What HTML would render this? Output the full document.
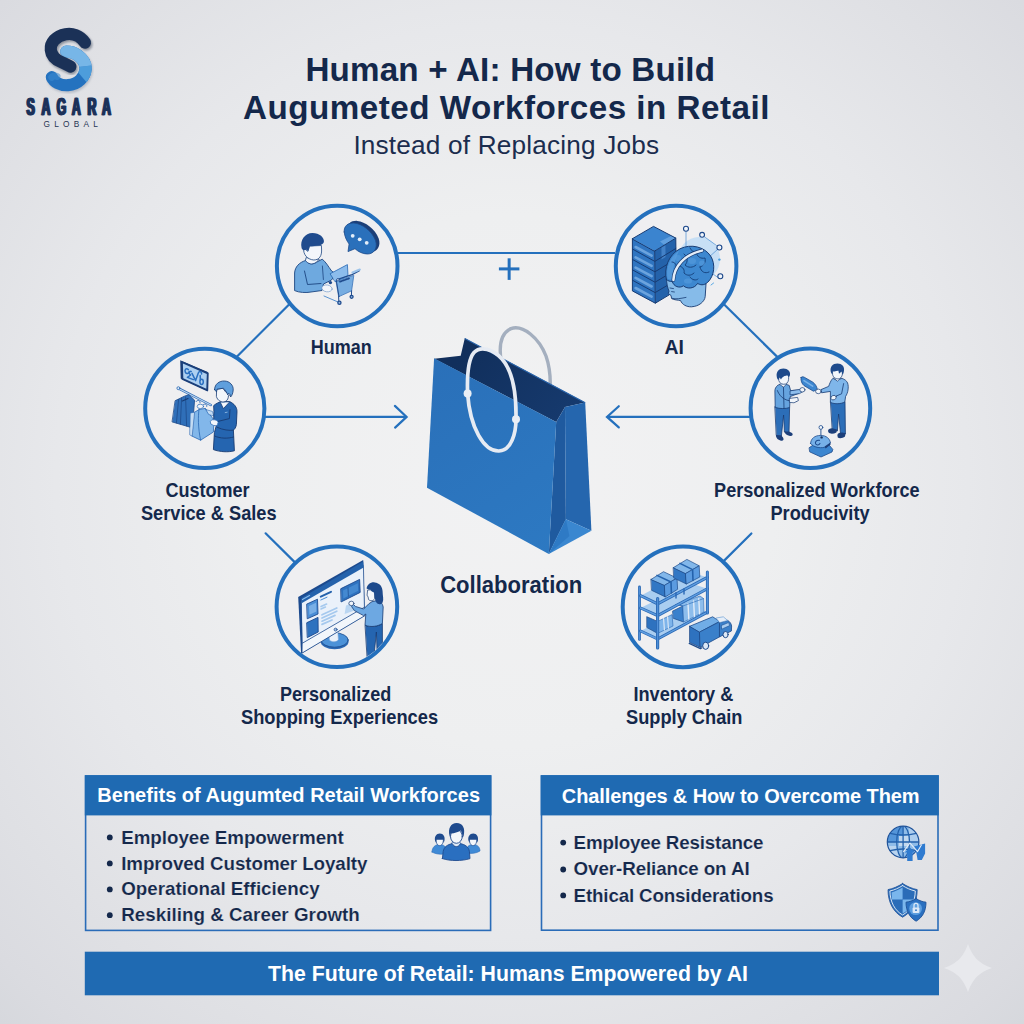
<!DOCTYPE html>
<html>
<head>
<meta charset="utf-8">
<title>Human + AI: Augmented Workforces in Retail</title>
<style>
  html, body { margin: 0; padding: 0; width: 1024px; height: 1024px; overflow: hidden; background: #e6e7ea; }
  svg { display: block; position: absolute; left: 0; top: 0; }
  text { font-family: "Liberation Sans", sans-serif; }
  .t  { font-weight: bold; fill: #14284b; }
  .lb { font-weight: bold; fill: #14284b; font-size: 18px; text-anchor: middle; }
  .lb2 { font-weight: bold; fill: #14284b; font-size: 19.3px; }
  .bl { font-weight: bold; fill: #14284b; font-size: 18.8px; stroke: #e4e5e9; stroke-width: 0.15px; }
  .hd { font-weight: bold; fill: #ffffff; font-size: 20px; }
  .ring { fill: #efeff1; stroke: #2470bd; stroke-width: 4; }
  .ln { stroke: #2470bd; stroke-width: 2.2; fill: none; stroke-linecap: butt; }
</style>
</head>
<body>
<svg width="1024" height="1024" viewBox="0 0 1024 1024">
  <defs>
    <radialGradient id="bg" cx="512" cy="480" r="760" gradientUnits="userSpaceOnUse">
      <stop offset="0" stop-color="#f2f2f3"/>
      <stop offset="0.35" stop-color="#eeeff0"/>
      <stop offset="0.6" stop-color="#e7e8eb"/>
      <stop offset="0.8" stop-color="#dfe0e4"/>
      <stop offset="0.92" stop-color="#dadbe0"/>
      <stop offset="1" stop-color="#d5d7dc"/>
    </radialGradient>
  </defs>
  <rect x="0" y="0" width="1024" height="1024" fill="url(#bg)"/>

  <!-- ============ LOGO ============ -->
  <g id="logo">
    <defs>
      <filter id="lsh" x="-20%" y="-20%" width="140%" height="140%">
        <feGaussianBlur stdDeviation="1.1"/>
      </filter>
      <clipPath id="clipLightA"><path d="M40 40 L100 40 L100 64.5 L74 67.5 L58 60 L40 60 Z"/></clipPath>
      <path id="lgpath" d="M66.3 51.6 C70 51.6 74 52.6 77.5 55 C83 59 86 64 85.6 69 C85 77 78 84.6 68 85.2 C60 85.6 54 82 51.8 77.2" fill="none" stroke-width="12.2" stroke-linecap="round"/>
      <clipPath id="clipLightB"><path d="M74 67.5 L100 64.5 L100 80 L88 84 Z"/></clipPath>
    </defs>
    <!-- light lower hook: shadow, base (dark tone), mid tone, light tone -->
    <path d="M66.3 51.6 C70 51.6 74 52.6 77.5 55 C83 59 86 64 85.6 69 C85 77 78 84.6 68 85.2 C60 85.6 54 82 51.8 77.2" fill="none" stroke="#8d97a8" stroke-width="12.4" stroke-linecap="round" opacity="0.5" filter="url(#lsh)" transform="translate(1 1.6)"/>
    <use href="#lgpath" stroke="#2472bf"/>
    <path d="M51.8 77.2 C53 76 55 75.6 57 76.4" fill="none" stroke="#3b8ad2" stroke-width="7" stroke-linecap="round" opacity="0.55"/>
    <g clip-path="url(#clipLightB)"><use href="#lgpath" stroke="#4d9ddb"/></g>
    <g clip-path="url(#clipLightA)"><use href="#lgpath" stroke="#77b6e7"/></g>
    <!-- dark upper hook -->
    <path d="M85 42.6 C80 35 72 33 65.5 34.2 C56 36 50 42.6 50.8 50 C51.5 56.4 56 60 62 62.4 C65 63.6 68 65.2 70.4 66.6" fill="none" stroke="#0c1a33" stroke-width="12.4" stroke-linecap="round" opacity="0.4" filter="url(#lsh)" transform="translate(1.2 1.8)"/>
    <path d="M85 42.6 C80 35 72 33 65.5 34.2 C56 36 50 42.6 50.8 50 C51.5 56.4 56 60 62 62.4 C65 63.6 68 65.2 70.4 66.6" fill="none" stroke="#1b3157" stroke-width="12.2" stroke-linecap="round"/>
    <!-- SAGARA -->
    <g transform="scale(0.5 1)" font-size="24.6" font-weight="bold" fill="#1b3159" stroke="#1b3159" stroke-width="0.7" style="font-family:'Liberation Sans',sans-serif">
      <g id="sagara">
        <text x="53" y="115.4">S</text>
        <text x="83" y="115.4">A</text>
        <text x="113.4" y="115.4">G</text>
        <text x="143.6" y="115.4">A</text>
        <text x="175" y="115.4">R</text>
        <text x="204" y="115.4">A</text>
      </g>
      <use href="#sagara" transform="translate(-1.3 0)"/>
      <use href="#sagara" transform="translate(1.3 0)"/>
    </g>
    <text x="43.6" y="127.2" font-size="8.3" fill="#283653" textLength="54.2" lengthAdjust="spacing">GLOBAL</text>
  </g>

  <!-- ============ TITLE ============ -->
  <text class="t" x="305.4" y="81" font-size="33.2" textLength="409.6" lengthAdjust="spacing">Human + AI: How to Build</text>
  <text class="t" x="243" y="119.1" font-size="33.2" textLength="526.4" lengthAdjust="spacing">Augumeted Workforces in Retail</text>
  <text x="353.4" y="154.3" font-size="26.2" fill="#1b2d4e" textLength="305.6" lengthAdjust="spacing">Instead of Replacing Jobs</text>

  <!-- ============ CONNECTORS ============ -->
  <g id="connectors">
    <line class="ln" x1="398" y1="253" x2="615" y2="253"/>
    <line class="ln" x1="498.9" y1="268.9" x2="519.4" y2="268.9" style="stroke-width:3"/>
    <line class="ln" x1="509.15" y1="258.3" x2="509.15" y2="279.9" style="stroke-width:3"/>
    <line class="ln" x1="290.3" y1="303.2" x2="236.3" y2="357.2"/>
    <line class="ln" x1="722.4" y1="302.8" x2="778.8" y2="358.4"/>
    <line class="ln" x1="265" y1="416.9" x2="406.2" y2="416.9"/>
    <polyline class="ln" points="394.9,405.9 406.6,416.9 395.1,427.6" style="stroke-linecap:round;stroke-linejoin:miter"/>
    <line class="ln" x1="750" y1="416.9" x2="607.4" y2="416.9"/>
    <polyline class="ln" points="618.8,406.2 607,416.9 618.8,427.4" style="stroke-linecap:round;stroke-linejoin:miter"/>
    <line class="ln" x1="265.6" y1="533.3" x2="295.7" y2="563.1" style="stroke-linecap:round"/>
    <line class="ln" x1="751.4" y1="533.5" x2="722.6" y2="562.1" style="stroke-linecap:round"/>
  </g>

  <!-- ============ RINGS ============ -->
  <g id="rings">
    <circle class="ring" cx="337.2" cy="266" r="60.3"/>
    <circle class="ring" cx="676.1" cy="266" r="60.3"/>
    <circle class="ring" cx="204.8" cy="408.4" r="59.6"/>
    <circle class="ring" cx="810.4" cy="408.2" r="59.8"/>
    <circle class="ring" cx="336.9" cy="606.8" r="60.3"/>
    <circle class="ring" cx="683" cy="606.9" r="60.3"/>
  </g>

  <!-- ============ ICONS ============ -->
  <g id="icon-human" stroke-linejoin="round" stroke-linecap="round">
    <!-- body -->
    <path d="M305.5 260.5 C299 262.5 295 267 294.6 273 L294.6 290.6 C299 292.6 306 293 311 292 L322 290.5 L323.5 284 L331.5 280 L336 274 L331.6 271 C328 266 325.5 261.5 322.2 259.2 L316 262.5 C312 265 308 264 305.5 260.5 Z" fill="#6ea9df" stroke="#1c4580" stroke-width="0.9"/>
    <path d="M304.5 271 L307.5 284.5 L321 283.5" fill="none" stroke="#1c4580" stroke-width="0.9"/>
    <path d="M322.4 266 L323.4 279.5" fill="none" stroke="#1c4580" stroke-width="0.8"/>
    <!-- neck -->
    <path d="M306 258 L305.5 260.5 C308 264 312 265 316 262.5 L319 259.5 Z" fill="#f3f6fb" stroke="#1c4580" stroke-width="0.8"/>
    <!-- face -->
    <path d="M303.6 248.5 C303 254 307 259.5 313.8 260 C319.5 260 321.8 255.5 321.6 250 L321.4 245.5 L309.5 246 L308 251 Z" fill="#f3f6fb" stroke="#1c4580" stroke-width="0.8"/>
    <!-- hair -->
    <path d="M301.6 248 C299.8 240 305 233 312.5 233 C319.5 233 324.5 237.5 323.9 242 C322.8 245.5 316 246.3 309.6 246.3 C309.3 248 308.8 249.8 308.1 251 C307 249.5 305 249.2 304 250.5 C303 250 302 249.4 301.6 248 Z" fill="#1f4b8e"/>
    <!-- laptop / cart -->
    <polygon points="330.4,273.6 347.4,264.6 348,275.6 335.4,281.6" fill="#8cbcec" stroke="#2a68b4" stroke-width="0.8"/>
    <polygon points="336.3,280.6 353.8,275.4 351.6,290.8 339,296.6" fill="#6ba6e0" stroke="#2a68b4" stroke-width="0.8" opacity="0.9"/>
    <path d="M337 279.5 L352 274.6 L359.4 270.6" fill="none" stroke="#1f4b8e" stroke-width="1.3"/>
    <path d="M352.5 272.6 L359.8 269.6" fill="none" stroke="#9cc3ea" stroke-width="2.2"/>
    <path d="M324 296 L338 302" fill="none" stroke="#5b93d0" stroke-width="1"/>
    <path d="M338.6 296.6 L338.8 301 M351.6 290.8 L351.4 295.6 M336.3 280.6 L339 296.6" fill="none" stroke="#1f4b8e" stroke-width="1"/>
    <path d="M340 281.6 L349 278.4" fill="none" stroke="#1f4b8e" stroke-width="1.8" stroke-dasharray="1.6 1.2"/>
    <circle cx="339.4" cy="302.8" r="1.6" fill="#8fb4de" stroke="#1f4b8e" stroke-width="1.3"/>
    <circle cx="351.6" cy="296.8" r="1.5" fill="#8fb4de" stroke="#1f4b8e" stroke-width="1.3"/>
    <circle cx="338" cy="279.8" r="1.3" fill="#dfe9f6" stroke="#1f4b8e" stroke-width="0.8"/>
    <!-- hand -->
    <ellipse cx="327" cy="288.4" rx="5.2" ry="3.4" fill="#f3f6fb" stroke="#6a93c6" stroke-width="0.6" transform="rotate(8 327 288.4)"/>
    <circle cx="330.4" cy="282.6" r="1.7" fill="#1f4b8e"/>
    <!-- speech bubble -->
    <path d="M344.2 232 C343.6 226 348 222.6 354 223 C362 223.6 372 231 375.5 240.5 C378 248 374 254 367.5 254 C362.5 254 358 251.5 355 248.7 L348 251.6 L349.1 244 C346.5 240.5 344.6 236.5 344.2 232 Z" fill="#1c3f78" transform="translate(3.2 -2.1)"/>
    <path d="M344.2 232 C343.6 226 348 222.6 354 223 C362 223.6 372 231 375.5 240.5 C378 248 374 254 367.5 254 C362.5 254 358 251.5 355 248.7 L348 251.6 L349.1 244 C346.5 240.5 344.6 236.5 344.2 232 Z" fill="#2a70bb" stroke="#1d4a8a" stroke-width="0.8"/>
    <circle cx="352.7" cy="235.8" r="1.9" fill="#e4eef9"/>
    <circle cx="359.7" cy="239.3" r="1.9" fill="#e4eef9"/>
    <circle cx="366.7" cy="242.8" r="1.9" fill="#e4eef9"/>
  </g>
  <g id="icon-ai" stroke-linejoin="round" stroke-linecap="round">
    <!-- glow -->
    <ellipse cx="699" cy="259" rx="21" ry="22" fill="#b9d9f5" opacity="0.75"/>
    <!-- node lines -->
    <path d="M686 231.5 L686 247 M704 236.5 L716.5 245.5 M717.5 249.5 L708 258 M718 277.5 L710 272" fill="none" stroke="#5d9ad8" stroke-width="0.8"/>
    <!-- server: right face -->
    <polygon points="654.7,251 675.8,238.1 676.4,290.3 655.3,303.2" fill="#2462aa"/>
    <!-- server: left face -->
    <polygon points="632.4,238.7 654.7,251 655.3,303.2 632.4,290.9" fill="#2f74c0"/>
    <!-- server: top -->
    <polygon points="632.4,238.7 653.5,226.4 675.8,238.1 654.7,251" fill="#3b84cf"/>
    <polygon points="660,241.5 671.5,235.8 675.8,238.1 664.4,245" fill="#6aa6e2" opacity="0.8"/>
    <polygon points="661.4,247.6 665.4,245.2 665.6,257 661.6,259.4" fill="#5d9ade" opacity="0.55"/>
    <!-- left face stripes -->
    <g fill="none" stroke="#7fb3e8" stroke-width="2.6" opacity="0.75">
      <path d="M635.6 247 L651.6 255.6"/>
      <path d="M635.6 257.3 L651.6 265.9"/>
      <path d="M635.6 267.6 L651.6 276.2"/>
      <path d="M635.6 277.9 L651.6 286.5"/>
      <path d="M635.6 288 L651.6 296.6"/>
    </g>
    <!-- outlines -->
    <g fill="none" stroke="#173b73" stroke-width="1">
      <polygon points="632.4,238.7 653.5,226.4 675.8,238.1 654.7,251"/>
      <path d="M632.4 238.7 L632.4 290.9 L655.3 303.2 L654.7 251"/>
      <path d="M675.8 238.1 L676 262"/>
      <path d="M632.4 249 L654.8 261.4 L675.8 248.5"/>
      <path d="M632.4 259.4 L654.9 271.8 L672 261.5"/>
      <path d="M632.4 269.8 L655 282.2 L668 274.5"/>
      <path d="M632.4 280.2 L655.1 292.6 L668 285"/>
      <path d="M655.3 303.2 L669 295"/>
    </g>
    <!-- head / face -->
    <path d="M666.6 279 C666.4 283 667.6 287.5 669 291.2 L668.2 293.6 L671 295.4 L671.6 298.6 C674 300 678 300 680.6 300.6 C682 304.5 686.5 307 691.5 306.8 C699 306.4 704.6 301.6 705.2 296.6 L706 284 L690 277 Z" fill="#86bbe9" stroke="#173b73" stroke-width="0.9"/>
    <path d="M670 288 L673.5 288.6 M671.6 291.6 L674.4 292" fill="none" stroke="#173b73" stroke-width="0.8"/>
    <path d="M672.4 298.4 C676 299.4 680 298.6 686 297.4" fill="none" stroke="#173b73" stroke-width="0.8"/>
    <!-- brain -->
    <path d="M666.4 279.5 C663.6 268.5 668.5 254.5 680 248.8 C691 243.4 704.5 246.8 710.6 256 C715.8 264 714.4 276 707.6 282.4 C703.5 286 700 284.8 697.6 283.4 C694.6 288.6 687.4 289.4 683.4 285.8 C679.4 288.6 673.8 286.6 672.2 281.4 C670 281.6 668 281 666.4 279.5 Z" fill="#3d88d0" stroke="#173b73" stroke-width="1"/>
    <path d="M667.6 278.6 C665.6 269 669.6 257 679.4 250.6 C675 258 672.6 268 672.4 279.6 C670.6 279.8 668.8 279.4 667.6 278.6 Z" fill="#5b9fe0" opacity="0.7"/>
    <!-- brain folds -->
    <g fill="none" stroke="#184581" stroke-width="1">
      <path d="M684 254 C688 257 688 262 685 265 C688 268 693 268 696 265"/>
      <path d="M696 252 C697 257 701 259 705 258 C706 262 704 266 700 267"/>
      <path d="M678 266 C682 266 685 269 684 273 C687 276 691 276 694 273"/>
      <path d="M700 267 C701 272 705 274 709 272"/>
      <path d="M690 277 C692 280 696 281 698 279"/>
      <path d="M672 262 C675 262 677 265 676 268"/>
      <path d="M690 248 C691 251 694 252 696 252"/>
    </g>
    <g fill="#5a9fe0" opacity="0.55">
      <ellipse cx="692" cy="261" rx="4" ry="3"/>
      <ellipse cx="702" cy="263" rx="3" ry="2.6"/>
      <ellipse cx="688" cy="281" rx="4" ry="2.6"/>
      <ellipse cx="678" cy="258" rx="3" ry="3"/>
    </g>
    <!-- white band -->
    <path d="M673.4 280 C674 267 684 254.5 702 250.6" fill="none" stroke="#173b73" stroke-width="3.8"/>
    <path d="M673.4 280 C674 267 684 254.5 702 250.6" fill="none" stroke="#e3edf8" stroke-width="2.5"/>
    <!-- nodes -->
    <g fill="#f2f6fb" stroke="#1b478a" stroke-width="1.1">
      <circle cx="686" cy="228.8" r="2.5"/>
      <circle cx="702.1" cy="234.8" r="2.4"/>
      <circle cx="719.4" cy="247.5" r="2.5"/>
      <circle cx="720.3" cy="276.2" r="2.5"/>
    </g>
    <circle cx="719.4" cy="259.6" r="1.2" fill="#4aa0e0"/>
    <path d="M711 285 L713.6 283" fill="none" stroke="#5baae6" stroke-width="1"/>
  </g>
  <g id="icon-customer" stroke-linejoin="round" stroke-linecap="round">
    <!-- sign -->
    <polygon points="181.1,361.1 208.6,372.9 208,391.6 181.6,379.3" fill="#1b3f7a" transform="translate(-0.9 -0.9)"/>
    <polygon points="181.9,362 207.9,373.2 207.4,390.6 182.3,379" fill="#1b3f7a" stroke="#1b3f7a" stroke-width="1.6"/>
    <polygon points="182.9,363.6 206.8,374 206.3,388.8 183.3,378.2" fill="#aed0f1"/>
    <g fill="none" stroke="#2a6fc0" stroke-width="1.5">
      <path d="M188.4 369.6 C186 367.6 184.2 369.8 185.4 372.4 C186.6 374.4 189 373.6 189.2 371.6"/>
      <path d="M191.2 371.4 C189 371 188.6 374 190.6 375 L187.4 377.4 L193.4 379.6"/>
      <path d="M192 373.4 L195.6 380.6 L198.4 372.8 C199.4 370.6 202 371.6 201.6 374"/>
      <ellipse cx="201.6" cy="381.8" rx="1.7" ry="2.6"/>
      <path d="M200.2 375.6 L200.4 380"/>
    </g>
    <!-- rack bar -->
    <path d="M178.6 388.4 L210.8 405" fill="none" stroke="#2a68b4" stroke-width="2.4"/>
    <path d="M178.6 388.4 L210.8 405" fill="none" stroke="#bcd6f0" stroke-width="1.1"/>
    <circle cx="178.4" cy="388.2" r="1.5" fill="#dbe8f6" stroke="#2a68b4" stroke-width="0.8"/>
    <!-- dark garments -->
    <path d="M175.4 400.6 L184.4 396.2 L188.8 394.6 L194.6 400.2 L193.6 412.5 L190.2 427.2 L172.4 422 Z" fill="#2f6fb9" stroke="#1d4a8a" stroke-width="0.8"/>
    <path d="M178.6 399.4 L176.4 423 M181.6 398 L180.4 424.2 M185.6 397 L186.6 426" fill="none" stroke="#1d4a8a" stroke-width="0.8"/>
    <path d="M182.4 401 L188 398.4" fill="none" stroke="#173b73" stroke-width="1.1"/>
    <!-- hangers -->
    <path d="M196 401.6 C197.6 399.4 200.6 400.4 200 402.8 M203 405 C204.6 403 207.4 404.2 206.8 406.4" fill="none" stroke="#2a68b4" stroke-width="0.9"/>
    <ellipse cx="200.4" cy="406.4" rx="3.2" ry="2.2" fill="#f1f5fa" stroke="#2a68b4" stroke-width="0.7"/>
    <!-- light garment -->
    <path d="M194.6 412.2 L199 409.6 L205.2 408.4 L214 420 L213.4 432 L200.6 440.2 L192.2 436.2 Z" fill="#82b7ea" stroke="#2a68b4" stroke-width="0.8"/>
    <path d="M190.4 413 L194.6 412.2 L192.2 436.2 L190 435 Z" fill="#c5dcf3" stroke="#2a68b4" stroke-width="0.6"/>
    <path d="M199 409.6 C198 416 198 428 200.6 440.2" fill="none" stroke="#2a68b4" stroke-width="0.8"/>
    <path d="M205.2 408.4 L210 413.4 L213 414.6" fill="none" stroke="#2a68b4" stroke-width="0.8"/>
    <polygon points="206,409.6 212.4,411.4 213.8,416 209,414.6" fill="#c5dcf3" stroke="#2a68b4" stroke-width="0.6"/>
    <!-- person body -->
    <path d="M213.9 405.4 C216 403.4 219.4 402.2 221 401.6 L229.6 401.6 C234 403.6 237 407 237 411.4 L236.4 424.4 C236 427.6 234.4 429.4 233.4 430.2 L234.4 450.8 C228 452.4 220 452 213.4 449.6 L214.4 432.6 L216.6 424.6 L213.6 424.6 L213.9 412 Z" fill="#2565b0" stroke="#173b73" stroke-width="0.9"/>
    <path d="M214.6 436 C220 438.6 228 438.8 233.6 437" fill="none" stroke="#173b73" stroke-width="0.9"/>
    <path d="M218 421.4 L229.4 418.6 L230 409.6 M217.4 427.4 C223 430 229.6 430.8 233.4 430.2" fill="none" stroke="#173b73" stroke-width="0.9"/>
    <path d="M220.4 402.6 L223.4 408.6 L229.4 402.2" fill="#f2f6fb" stroke="#173b73" stroke-width="0.8"/>
    <path d="M225.2 412.6 L227.2 412.2" fill="none" stroke="#9cc3ea" stroke-width="0.8"/>
    <!-- hand -->
    <ellipse cx="214.2" cy="422.6" rx="4" ry="2.9" fill="#f2f6fb" stroke="#2a68b4" stroke-width="0.7" transform="rotate(15 214.2 422.6)"/>
    <!-- face -->
    <path d="M216.6 389.6 L216.4 396.4 C217.4 400.6 221.6 402.8 225.2 401.6 C227.6 400.6 228.6 397.6 228.4 395.6 C230.2 395.6 231.4 393.6 230.4 392 L226 392.4 L223 388.6 Z" fill="#f2f6fb" stroke="#173b73" stroke-width="0.8"/>
    <!-- hair -->
    <path d="M214.6 389.4 C214.6 384 219.4 380.8 224.4 381 C230 381.2 233.6 385.6 233.2 390 C233 393 232 395.6 230.6 397 C230.4 395 229.6 393.2 228.4 393.4 L227.8 395 C226.6 392 225 389.8 223.4 388.2 L217 389.2 L216.6 391.6 C215.6 391.2 214.8 390.4 214.6 389.4 Z" fill="#5f9fdd" stroke="#173b73" stroke-width="0.8"/>
  </g>
  <g id="icon-workforce" stroke-linejoin="round" stroke-linecap="round">
    <!-- person 1 legs -->
    <path d="M775.2 406.6 L789.6 407.4 L789 433 L784.4 432 L783.6 415 L781.4 436 L776.6 435.4 Z" fill="#2c6eb8" stroke="#173b73" stroke-width="0.8"/>
    <path d="M776 435 C775.6 437.4 777.6 439.8 781 440.8 C783.4 441.2 784.2 439.4 783 437.6 L781.4 435.6 Z" fill="#1c3f7a"/>
    <path d="M784.4 431.6 C784.4 433.4 786.6 435.4 790 436 C792.6 436.2 793.4 434.4 792 433 L789 431.4 Z" fill="#1c3f7a"/>
    <!-- person 1 torso -->
    <path d="M777.6 385.4 C775.6 387 774.9 389 774.9 391 L775.2 407.4 C780 409 785.6 408.8 789.6 407.6 L790.2 396.6 L798.6 393.4 L799 390 L790.6 390.6 L789.2 385.4 L783.4 383.4 Z" fill="#66a4df" stroke="#173b73" stroke-width="0.8"/>
    <path d="M790.4 390.8 L800 389.4 L803 388 L803.4 391.2 L799.6 393.6 L790.4 394.8 Z" fill="#8dbdec" stroke="#173b73" stroke-width="0.7"/>
    <path d="M777.4 390.6 C779 395 783 399.6 789 400.6 L796.4 401.4 M783.4 385 L784 408" fill="none" stroke="#173b73" stroke-width="0.8"/>
    <path d="M779.6 384.4 L783.6 387.2 L786.6 384" fill="#f2f6fb" stroke="#173b73" stroke-width="0.7"/>
    <ellipse cx="802.4" cy="389.8" rx="2.6" ry="2.2" fill="#f2f6fb" stroke="#173b73" stroke-width="0.7"/>
    <path d="M789.6 398.4 L797.6 397.4 L798.4 400.6 L794 402.8 L789.8 402.4 Z" fill="#f2f6fb" stroke="#173b73" stroke-width="0.7"/>
    <!-- person 1 head -->
    <path d="M778.6 376.4 L778.8 380.6 C779.6 383.6 782.6 384.8 785.6 384 C788 383 788.8 380.4 788.6 377.6 L788.4 375 Z" fill="#f2f6fb" stroke="#173b73" stroke-width="0.7"/>
    <path d="M776.8 377 C775.8 372 779 368.6 783.4 368.6 C788 368.6 790.6 371.6 790 375.2 L788.8 377.6 C788.4 376 787.6 375.2 786.4 375.4 C783.6 376 782 377.4 781 379.4 L779.6 377.4 L778.4 380 C777.6 379.4 777 378.2 776.8 377 Z" fill="#1e4a8c"/>
    <!-- tablet -->
    <path d="M801 377.6 C801.4 376.6 802.6 376.6 804.2 377.2 L812.6 382 C815 383.6 816.8 386.4 817.4 389.6 L813.4 391.2 L804 385.6 C801.8 383.8 800.6 380.4 801 377.6 Z" fill="#3c86d0" stroke="#1c4a8c" stroke-width="0.8"/>
    <path d="M804 380.6 L812.6 386.2" fill="none" stroke="#7ab2e8" stroke-width="1.6"/>
    <!-- person 2 legs -->
    <path d="M830.8 401.8 L845 401.8 L845.4 434 L840.6 434.6 L838.6 414 L837.4 431 L832.6 430.4 Z" fill="#2c6eb8" stroke="#173b73" stroke-width="0.8"/>
    <path d="M828 431 C828 429 830.6 428 833.2 428.4 L837 429.4 L836.4 432.4 C833.6 434 830 434 828.6 432.6 Z" fill="#1c3f7a"/>
    <path d="M837.4 435.4 C837.4 433.2 839.6 432.4 842.4 432.6 L845.6 433.2 L845 436.6 C842.6 438.4 839 438.6 837.8 437.4 Z" fill="#1c3f7a"/>
    <!-- person 2 torso -->
    <path d="M832.6 378.6 C830.6 380.6 829.6 384 828.6 386.4 L821 389.6 L821.6 392.8 L830.4 391.4 L830.4 402.4 C835 404.4 841 404 844.8 402 L845.6 396.4 C848 393 849 387 847.6 383 C846.6 380.6 844.6 379.4 842 378.4 L837 380 Z" fill="#7fb6ea" stroke="#173b73" stroke-width="0.8"/>
    <path d="M834.4 396.8 L841.6 393.8 L843.6 383.6" fill="none" stroke="#173b73" stroke-width="0.8"/>
    <path d="M833.6 378 L837.4 381.2 L841 378" fill="#f2f6fb" stroke="#173b73" stroke-width="0.7"/>
    <ellipse cx="818.4" cy="391.4" rx="2.8" ry="2.3" fill="#f2f6fb" stroke="#173b73" stroke-width="0.7"/>
    <ellipse cx="833.6" cy="397.6" rx="2.8" ry="2.2" fill="#f2f6fb" stroke="#173b73" stroke-width="0.7" transform="rotate(-20 833.6 397.6)"/>
    <!-- person 2 head -->
    <path d="M832.4 370.6 L832.6 374.6 C833.4 378 836.4 379.4 839.4 378.6 C841.8 377.6 842.6 375 842.4 372.4 L842.2 370 Z" fill="#f2f6fb" stroke="#173b73" stroke-width="0.7"/>
    <path d="M830.8 372 C829.6 367 832.8 363.6 837.4 363.6 C842 363.6 844.6 366.6 844 370.4 C843.8 372.4 843.2 374 842.4 374.8 L841.6 371.4 L839 373.8 L838.4 370.6 C836.4 371.4 834.2 371.6 832.6 371.2 L832.4 374.4 C831.6 373.8 831 373 830.8 372 Z" fill="#1e4a8c"/>
    <!-- robot -->
    <path d="M820.9 429.4 L820.9 436" fill="none" stroke="#1c4a8c" stroke-width="0.9"/>
    <circle cx="820.9" cy="427.4" r="1.9" fill="#f2f6fb" stroke="#1c4a8c" stroke-width="0.8"/>
    <path d="M809.4 447.6 L814 444.4 L828.6 444.4 L832.8 449.4 L832 452 L821 457 L810 452 Z" fill="#3c86d0" stroke="#1c4a8c" stroke-width="0.8"/>
    <path d="M810.6 443.6 C810.6 438.4 815 435.4 820.6 435.4 C826.6 435.4 830 439 830.4 443 L826.6 446.6 C822 448.6 814 448 810.6 443.6 Z" fill="#76b0e8" stroke="#1c4a8c" stroke-width="0.8"/>
    <path d="M824.6 446.4 L830.4 442.4 L830.6 444.6 L825.6 448.4 Z" fill="#1c3f7a"/>
    <path d="M819.4 440.4 C816.6 439.8 814.8 441.8 815.6 443.8 C816.6 445.6 819.4 445.2 820 443.4" fill="none" stroke="#1c4a8c" stroke-width="1.1"/>
    <circle cx="821.6" cy="437.4" r="1.2" fill="#16305e"/>
  </g>
  <g id="icon-shopping" stroke-linejoin="round" stroke-linecap="round">
    <defs><clipPath id="clipShop"><circle cx="336.7" cy="606.2" r="58.6"/></clipPath></defs>
    <g clip-path="url(#clipShop)">
    <!-- stand -->
    <ellipse cx="334.6" cy="641.6" rx="14" ry="7.6" fill="#2a68b4"/>
    <ellipse cx="334.6" cy="640" rx="13.6" ry="7.2" fill="#4c92d8" stroke="#1d4a8a" stroke-width="0.8"/>
    <path d="M328.6 632 L329.4 640 C331.6 642.4 337 642.4 338.4 639.6 L337.6 628 Z" fill="#e9f0f9" stroke="#7aa6d8" stroke-width="0.6"/>
    <!-- monitor frame -->
    <polygon points="298.2,596.9 363.2,560 365,615.6 301.1,653.7" fill="#1c4a8e"/>
    <polygon points="301.6,600.6 363.4,565.6 364.6,614.8 302.6,652.2" fill="#eaf1fa" stroke="#1c4a8e" stroke-width="0.7"/>
    <!-- top bar -->
    <polygon points="301.4,598 363.3,561.4 363.6,567.6 301.6,603.2" fill="#2462ac"/>
    <path d="M302.4 599.6 L309.6 595.6" fill="none" stroke="#8bbcec" stroke-width="1.1"/>
    <!-- chin -->
    <polygon points="302.4,643.2 364.8,607 365,615.6 302.2,653" fill="#f2f6fb" stroke="#1c4a8e" stroke-width="0.8"/>
    <circle cx="335.6" cy="629.6" r="1.5" fill="#9fbfe4" stroke="#1c4a8e" stroke-width="0.7"/>
    <!-- left tiles -->
    <polygon points="307,604 317.5,599.2 318,614 307.6,618.6" fill="#4a8ed6" stroke="#1c4a8e" stroke-width="0.9"/>
    <polygon points="309,606 316,602.8 316.4,611.6 309.4,614.8" fill="#8dbdec" opacity="0.7"/>
    <polygon points="307,622.6 318,617.4 318.2,632 307.6,637.4" fill="#2e72bf" stroke="#1c4a8e" stroke-width="0.9"/>
    <!-- middle text lines -->
    <path d="M320.8 596.6 L331 591.8" fill="none" stroke="#2462ac" stroke-width="2"/>
    <path d="M320.8 600 L327 597.2" fill="none" stroke="#4a8ed6" stroke-width="1"/>
    <path d="M321 606.6 L326.6 604 M321 609 L325.4 607" fill="none" stroke="#a5c9ee" stroke-width="1.6"/>
    <path d="M322 614.8 L336.8 608 M322 618 L336.8 611.2 M322 621.2 L335 615.4 M322 624.4 L332 620" fill="none" stroke="#a5c9ee" stroke-width="1.7"/>
    <!-- right image block -->
    <polygon points="341,588.6 359.6,579.4 360.2,592.4 341.4,601.8" fill="#2e72bf" stroke="#1c4a8e" stroke-width="0.9"/>
    <polygon points="343,590.6 357.8,583.2 358.2,590.8 343.3,598.4" fill="#4a8ed6" opacity="0.8"/>
    <path d="M348 588 L348.4 596" fill="none" stroke="#1c4a8e" stroke-width="0.7"/>
    <polygon points="346,605.6 352,603.4 354.6,610.4 344.6,614" fill="#b5d3f1" opacity="0.9"/>
    <!-- woman legs -->
    <path d="M365.4 625.4 C371 627.4 378 626.4 382.4 623.6 L382.4 644 L377 650 L376.4 632 L373.6 660 L367.6 660 Z" fill="#2565b0" stroke="#173b73" stroke-width="0.8"/>
    <!-- woman torso -->
    <path d="M368.6 604 L363.6 609 L355.4 606.4 L353.4 604.4 L351.6 606.6 L354.4 610.6 L363.6 615.6 L365.8 614 L365 625.2 C371 627.6 378 626.4 382.4 623.4 L383.2 607 C382.6 603.6 380.6 601.4 378 600.4 L372.4 601.6 Z" fill="#6da8e2" stroke="#173b73" stroke-width="0.8"/>
    <!-- hand -->
    <ellipse cx="351.4" cy="603.4" rx="2.6" ry="2.2" fill="#f2f6fb" stroke="#173b73" stroke-width="0.7"/>
    <!-- face -->
    <path d="M367.6 590.4 L367 595.6 L368 596.4 L368.6 599.6 C370.4 601.4 373.6 601 374.6 598.6 L374.4 590 Z" fill="#f2f6fb" stroke="#173b73" stroke-width="0.7"/>
    <!-- hair -->
    <path d="M366.6 588.6 C367 584.6 370.6 582 374.6 582.4 C379.6 582.8 382.6 586.6 382.6 591.6 C382.6 595.6 384 599.4 382.6 602.4 C381 604.8 378 605 376.4 602.6 C374.6 600 374.8 595.6 374 592.4 C372.6 592.4 371 591 370.2 589.6 C369 589.8 367.6 589.4 366.6 588.6 Z" fill="#1e4a8c"/>
    </g>
  </g>
  <g id="icon-inventory" stroke-linejoin="round" stroke-linecap="round">
    <!-- back posts -->
    <path d="M639.5 587 L639.5 639.4" fill="none" stroke="#2a68b4" stroke-width="2.8"/>
    <path d="M639.5 587 L639.5 639.4" fill="none" stroke="#4f8fd8" stroke-width="1.2"/>
    <!-- shelves (planes) -->
    <polygon points="640.6,595.7 688,571 707.4,577.4 657.6,603.9" fill="#a9cdf0"/>
    <polygon points="640.6,608 690,583 707.4,588.7 657.6,615.6" fill="#a9cdf0"/>
    <polygon points="640.6,631 690,606 707.4,612.1 657.6,639" fill="#a9cdf0"/>
    <!-- bottom left box -->
    <polygon points="647,616.8 657.6,621.4 657.6,633.4 647,627.6" fill="#2e72bf" stroke="#1d4a8a" stroke-width="0.7"/>
    <polygon points="657.6,621.4 672,614.6 673,626 657.6,633.4" fill="#7eb4ea" stroke="#2a68b4" stroke-width="0.6"/>
    <path d="M663.6 618.6 L664.4 630 M667.6 616.8 L668.4 628.2" fill="none" stroke="#dfeaf7" stroke-width="1.1"/>
    <!-- middle shelf boxes -->
    <polygon points="672.8,611 682.8,606 683.6,622 673.6,618.4" fill="#3a80cc" stroke="#1d4a8a" stroke-width="0.7"/>
    <polygon points="676,604.6 700,596 703.6,598.6 704,612 683.6,622 682.8,606" fill="#8dbdec" stroke="#2a68b4" stroke-width="0.6"/>
    <path d="M688 603.6 L688.8 619 M693.6 601 L694.4 616.4 M698.8 598.8 L699.6 614" fill="none" stroke="#e2ecf8" stroke-width="1.4"/>
    <path d="M676 604.6 L682.8 606 L703.6 598.6" fill="none" stroke="#2a68b4" stroke-width="0.6"/>
    <!-- shelf front edges -->
    <g fill="none" stroke="#2a68b4" stroke-width="3">
      <path d="M657.6 603.9 L707.4 577.4"/>
      <path d="M657.6 615.6 L707.4 588.7"/>
      <path d="M657.6 639 L707.4 612.1"/>
      <path d="M640.6 595.7 L657.6 603.9"/>
      <path d="M640.6 608 L657.6 615.6"/>
      <path d="M640.6 631 L657.6 639"/>
    </g>
    <g fill="none" stroke="#5e9de0" stroke-width="1.4">
      <path d="M657.6 603.9 L707.4 577.4"/>
      <path d="M657.6 615.6 L707.4 588.7"/>
      <path d="M657.6 639 L707.4 612.1"/>
      <path d="M640.6 595.7 L657.6 603.9"/>
      <path d="M640.6 608 L657.6 615.6"/>
      <path d="M640.6 631 L657.6 639"/>
    </g>
    <path d="M676 592.6 L676 598 M684 589 L684 594" fill="none" stroke="#2a68b4" stroke-width="1.4"/>
    <!-- top boxes: box1 -->
    <polygon points="651.2,579.3 664.7,585.2 665.3,596.9 651.8,590.4" fill="#3277c4" stroke="#1d4a8a" stroke-width="0.7"/>
    <polygon points="651.2,579.3 663.5,571.7 677,578.1 664.7,585.2" fill="#82b7ea" stroke="#1d4a8a" stroke-width="0.7"/>
    <polygon points="664.7,585.2 677,578.1 677.6,589.3 665.3,596.9" fill="#5b9be0" stroke="#1d4a8a" stroke-width="0.7"/>
    <path d="M657 575.4 L671 582 L671.4 593" fill="none" stroke="#2462ac" stroke-width="1.6"/>
    <!-- box2 -->
    <polygon points="673.5,567.6 685.8,573.4 686.4,584 674,578.1" fill="#3277c4" stroke="#1d4a8a" stroke-width="0.7"/>
    <polygon points="673.5,567.6 686.9,559.4 699.2,565.8 685.8,573.4" fill="#82b7ea" stroke="#1d4a8a" stroke-width="0.7"/>
    <polygon points="685.8,573.4 699.2,565.8 699.8,577 686.4,584" fill="#5b9be0" stroke="#1d4a8a" stroke-width="0.7"/>
    <path d="M680 563.4 L692.6 569.6 L693 580.4" fill="none" stroke="#2462ac" stroke-width="1.6"/>
    <!-- front posts -->
    <path d="M657.6 598.6 L657.6 648" fill="none" stroke="#2a68b4" stroke-width="3.2"/>
    <path d="M657.6 598.6 L657.6 648" fill="none" stroke="#4f8fd8" stroke-width="1.4"/>
    <path d="M707.4 572 L707.4 613" fill="none" stroke="#2a68b4" stroke-width="3"/>
    <path d="M707.4 572 L707.4 613" fill="none" stroke="#4f8fd8" stroke-width="1.3"/>
    <!-- truck -->
    <polygon points="689.9,626.2 699.8,632 700.4,647.3 689.9,642.6" fill="#2e72bf" stroke="#1d4a8a" stroke-width="0.8"/>
    <polygon points="689.9,626.2 712.7,616.8 719.8,621.5 699.8,632" fill="#71ade6" stroke="#1d4a8a" stroke-width="0.8"/>
    <polygon points="699.8,632 719.8,621.5 719.8,636.7 700.4,647.3" fill="#3a80ca" stroke="#1d4a8a" stroke-width="0.8"/>
    <path d="M719.8 622.6 L727.6 620.4 C730 621.6 731.4 624 731.6 626 L731.4 631 L719.8 636.7 Z" fill="#3a80ca" stroke="#1d4a8a" stroke-width="0.8"/>
    <polygon points="716.2,618 723.3,616.8 727.6,620.4 719.8,622.6" fill="#e6eef8" stroke="#5b93d0" stroke-width="0.6"/>
    <path d="M721.6 625.4 L728.6 622.6 L729.6 625.6 L722 629 Z" fill="#a9cdf0" stroke="#1d4a8a" stroke-width="0.5"/>
    <ellipse cx="705.7" cy="645.8" rx="3" ry="3.6" fill="#dce8f6" stroke="#1d4a8a" stroke-width="1"/>
    <ellipse cx="725.6" cy="634.6" rx="2.6" ry="3.1" fill="#dce8f6" stroke="#1d4a8a" stroke-width="1"/>
    <path d="M689.2 643.4 L700.4 648.6 L702 647.8" fill="none" stroke="#1d4a8a" stroke-width="1.2"/>
  </g>

  <!-- ============ BAG ============ -->
  <g id="bag">
    <defs>
      <linearGradient id="bagF" x1="434" y1="360" x2="560" y2="550" gradientUnits="userSpaceOnUse">
        <stop offset="0" stop-color="#2a70b9"/>
        <stop offset="1" stop-color="#2d79c2"/>
      </linearGradient>
      <linearGradient id="bagI" x1="470" y1="345" x2="570" y2="420" gradientUnits="userSpaceOnUse">
        <stop offset="0" stop-color="#112f5c"/>
        <stop offset="1" stop-color="#163a6e"/>
      </linearGradient>
    </defs>
    <!-- back handle (grey) -->
    <path d="M501 360 C499 346 501 333 511 328.6 C523 324.5 539 338 546 356 C549.5 366 550.3 374 550.3 384" fill="none" stroke="#a4afbf" stroke-width="3.4"/>
    <!-- interior -->
    <polygon points="434.3,358.8 460.7,355.8 464.8,338.2 585.2,402.6 565,407 556.2,422" fill="url(#bagI)"/>
    <path d="M464.8 338.4 L585.2 402.8" fill="none" stroke="#2a66ad" stroke-width="1.1"/>
    <!-- side: dark strip -->
    <polygon points="556.2,422 565,407 565.9,519.3 548.8,553.9" fill="#1f5a9f"/>
    <!-- side: light strip -->
    <polygon points="565,407 585.2,402.6 591.4,530.7 565.9,519.3" fill="#2566ae"/>
    <!-- bottom fold -->
    <polygon points="565.9,519.3 591.4,530.7 548.8,553.9" fill="#3a87d0"/>
    <polygon points="565.9,519.3 569.4,536 548.8,553.9" fill="#2e7ac5"/>
    <!-- front face -->
    <polygon points="434.1,358.3 556.2,422 548.8,553.9 427,487.7" fill="url(#bagF)"/>
    <!-- front handle (white) -->
    <path d="M467.6 393.5 C467 377 467.5 360 474 352.5 C480.5 345.5 493 349 502 359 C512 370.5 516.5 390 516 419 C516 433 511.5 450.5 499 451 C484 451.5 470 428 467.6 393.5 Z" fill="none" stroke="#e6ebf3" stroke-width="3.7"/>
    <circle cx="467.6" cy="393.6" r="4" fill="#e9eef5"/>
    <circle cx="516" cy="419.2" r="4" fill="#e9eef5"/>
  </g>

  <!-- ============ LABELS ============ -->
  <text class="lb2" x="310.8" y="353.6" textLength="61.0" lengthAdjust="spacingAndGlyphs">Human</text>
  <text class="lb2" x="664.4" y="353.6" textLength="19.4" lengthAdjust="spacingAndGlyphs">AI</text>
  <text class="lb2" x="165.4" y="497" textLength="84.2" lengthAdjust="spacingAndGlyphs">Customer</text>
  <text class="lb2" x="140.9" y="519.7" textLength="135.7" lengthAdjust="spacingAndGlyphs">Service &amp; Sales</text>
  <text class="lb2" x="714.1" y="497" textLength="205.5" lengthAdjust="spacingAndGlyphs">Personalized Workforce</text>
  <text class="lb2" x="770.4" y="519.7" textLength="99.2" lengthAdjust="spacingAndGlyphs">Producivity</text>
  <text class="lb2" x="280.0" y="700.6" textLength="111.2" lengthAdjust="spacingAndGlyphs">Personalized</text>
  <text class="lb2" x="241.0" y="724" textLength="197.1" lengthAdjust="spacingAndGlyphs">Shopping Experiences</text>
  <text class="lb2" x="633.4" y="700.6" textLength="100.0" lengthAdjust="spacingAndGlyphs">Inventory &amp;</text>
  <text class="lb2" x="626.0" y="724" textLength="116.5" lengthAdjust="spacingAndGlyphs">Supply Chain</text>
  <text class="lb2" x="440.2" y="593" style="font-size:23px" textLength="142" lengthAdjust="spacingAndGlyphs">Collaboration</text>

  <!-- ============ LEFT BOX ============ -->
  <g id="box-left">
    <rect x="85.6" y="776" width="405" height="154.4" fill="none" stroke="#2a6cb8" stroke-width="1.6"/>
    <rect x="84.8" y="775.2" width="406.6" height="40.2" fill="#1f6ab2"/>
    <text class="hd" x="97.3" y="802" textLength="382.7" lengthAdjust="spacing">Benefits of Augumted Retail Workforces</text>
    <g fill="#14284b">
      <circle cx="109.8" cy="837.4" r="2.9"/><circle cx="109.8" cy="863.4" r="2.9"/><circle cx="109.8" cy="889.4" r="2.9"/><circle cx="109.8" cy="915.2" r="2.9"/>
    </g>
    <g class="bl">
      <text x="121.2" y="843.5" textLength="222.6" lengthAdjust="spacing">Employee Empowerment</text>
      <text x="121.2" y="869.5" textLength="246.2" lengthAdjust="spacing">Improved Customer Loyalty</text>
      <text x="121.2" y="895.4" textLength="198.4" lengthAdjust="spacing">Operational Efficiency</text>
      <text x="121.2" y="921.3" textLength="238.6" lengthAdjust="spacing">Reskiling &amp; Career Growth</text>
    </g>
    <g id="icon-team" stroke-linejoin="round" stroke-linecap="round">
      <!-- left person -->
      <path d="M432 852 C432 847.4 435 844.6 439.5 844.2 C444 844.6 446.6 847 446.8 851 L446 853.6 C441.6 854.8 436 854.4 432 852 Z" fill="#3f8ad6" stroke="#2a6cb8" stroke-width="0.6"/>
      <path d="M436 839.6 C436 843.4 437.6 845.6 439.6 845.6 C441.8 845.6 443.4 843.4 443.4 839.6 Z" fill="#f2f6fb" stroke="#1f4b8e" stroke-width="0.7"/>
      <path d="M435.2 841 C434 836.6 436.4 833.4 439.8 833.4 C443.4 833.4 445.4 836.6 444.4 841 L443.4 843 L443.2 839.4 L436.4 839.4 L436.2 843 Z" fill="#1f4b8e"/>
      <!-- right person -->
      <path d="M466 851.6 C466 847 469 844.6 473.2 844.2 C477.6 844.6 480 847.4 480 851 C476.6 853.4 471 854 467 853 Z" fill="#3f8ad6" stroke="#2a6cb8" stroke-width="0.6"/>
      <path d="M469.4 839.6 C469.4 843.4 471 845.6 473 845.6 C475.2 845.6 476.8 843.4 476.8 839.6 Z" fill="#f2f6fb" stroke="#1f4b8e" stroke-width="0.7"/>
      <path d="M468.6 841 C467.4 836.6 469.8 833.4 473.2 833.4 C476.8 833.4 478.8 836.6 477.8 841 L476.8 843 L476.6 839.4 L469.8 839.4 L469.6 843 Z" fill="#1f4b8e"/>
      <!-- centre person -->
      <path d="M442.4 858.6 L443.2 851.4 C444 846.8 447.6 844.6 452.2 843.6 C454.6 847.4 458 847.4 460.4 843.6 C465 844.6 468.6 846.8 469.4 851.4 L470 858.6 C462 861.2 450 861.2 442.4 858.6 Z" fill="#2a6fc0" stroke="#1f4b8e" stroke-width="0.9"/>
      <path d="M452.2 843.6 C454.6 847.6 458 847.6 460.4 843.6 L459.6 841 L453 841 Z" fill="#dfeaf6" stroke="#1f4b8e" stroke-width="0.7"/>
      <ellipse cx="456.4" cy="836.4" rx="5.9" ry="6.9" fill="#f4f7fb" stroke="#1f4b8e" stroke-width="0.9"/>
      <path d="M449.6 836 C447.6 828.4 451 823 456.6 823 C462.8 823 465.6 828.4 463.6 836 L462.4 838 C462.6 835 462 832.4 460.6 830.6 C457.6 832.6 453.6 833.6 450.6 833.4 L450.4 838 Z" fill="#1f4b8e"/>
    </g>
  </g>

  <!-- ============ RIGHT BOX ============ -->
  <g id="box-right">
    <rect x="541.5" y="776" width="396.5" height="154.2" fill="none" stroke="#2a6cb8" stroke-width="1.6"/>
    <rect x="540.7" y="775.2" width="398.1" height="40.2" fill="#1f6ab2"/>
    <text class="hd" x="561.8" y="802.8" textLength="357.8" lengthAdjust="spacing">Challenges &amp; How to Overcome Them</text>
    <g fill="#14284b">
      <circle cx="563.2" cy="842.6" r="2.9"/><circle cx="563.2" cy="869.5" r="2.9"/><circle cx="563.2" cy="895.4" r="2.9"/>
    </g>
    <g class="bl">
      <text x="573.6" y="848.8" textLength="189.8" lengthAdjust="spacing">Employee Resistance</text>
      <text x="573.6" y="875.4" textLength="176" lengthAdjust="spacing">Over-Reliance on AI</text>
      <text x="573.6" y="901.8" textLength="200" lengthAdjust="spacing">Ethical Considerations</text>
    </g>
    <g id="icon-globe" stroke-linejoin="round" stroke-linecap="round">
      <defs><clipPath id="clipGlobe"><circle cx="903.1" cy="842" r="15.6"/></clipPath></defs>
      <circle cx="903.1" cy="842" r="15.8" fill="#8fbce8"/>
      <g clip-path="url(#clipGlobe)">
        <path d="M887 828 L903 826 L903 842 L887 842 Z" fill="#4a8ed6" opacity="0.85"/>
        <path d="M899 836 L909 836 L909 846 L899 846 Z" fill="#c9dcf0" opacity="0.9"/>
        <path d="M887 846 L897 846 L899 858 L890 856 Z" fill="#c3d9f0" opacity="0.8"/>
        <path d="M909 828 L920 834 L920 842 L909 842 Z" fill="#b5d2f0" opacity="0.8"/>
        <g fill="none" stroke="#2462ac" stroke-width="1.3">
          <ellipse cx="903.1" cy="842" rx="6.4" ry="15.8"/>
          <path d="M903.1 826 L903.1 858"/>
          <path d="M887.3 842 L919 842"/>
          <path d="M890 833.4 C898 835.4 908 835.4 916.4 833.4"/>
          <path d="M890 850.6 C898 848.6 908 848.6 916.4 850.6"/>
        </g>
      </g>
      <circle cx="903.1" cy="842" r="15.8" fill="none" stroke="#1f5299" stroke-width="1.2"/>
      <!-- chart -->
      <path d="M904.8 852.4 L909.9 847.4 L915 852.4 L912.6 852.4 L912.6 861 L907.2 861 L907.2 852.4 Z" fill="#2f7bd0"/>
      <path d="M914 846.6 L925.1 843.6 L925.1 853.4 L921.8 860 L917.6 860 L916.4 853 Z" fill="#2f7bd0"/>
      <path d="M903.6 851.6 L909.9 843 L917.6 851.6 L921.4 845" fill="none" stroke="#e8eef7" stroke-width="1.1"/>
    </g>
    <g id="icon-shield" stroke-linejoin="round" stroke-linecap="round">
      <path d="M902.6 883.5 C898 886.6 893 888.6 888 889.6 C888 902 893 912 902.6 917.2 C912.2 912 917.2 902 917.2 889.6 C912.2 888.6 907.2 886.6 902.6 883.5 Z" fill="#2a6cb8" stroke="#1f5299" stroke-width="0.8"/>
      <path d="M902.6 885.6 C898.6 888.2 894.4 890 889.9 891 C890.2 901.6 894.4 910.4 902.6 915 C910.8 910.4 915 901.6 915.3 891 C910.8 890 906.6 888.2 902.6 885.6 Z" fill="none" stroke="#e8eff8" stroke-width="0.9"/>
      <path d="M902.6 887.6 C899 889.8 895.4 891.4 891.6 892.4 L892 899.6 L902.6 899.6 Z" fill="#7ab6ec"/>
      <path d="M902.6 899.6 L913.2 899.6 C912.4 905.6 908.6 910.6 902.6 913.4 Z" fill="#7ab6ec"/>
      <!-- small shield -->
      <path d="M916.1 898.6 C912.6 900.8 909.4 901.8 906 902.2 C906 911 909.6 917.4 916.1 921.2 C922.6 917.4 926 911 926 902.2 C922.6 901.8 919.6 900.8 916.1 898.6 Z" fill="#2a70c0" stroke="#1f5299" stroke-width="0.9"/>
      <circle cx="915.6" cy="908.6" r="6.4" fill="#5d9fe0"/>
      <path d="M914 907.6 L914 905.4 C914 902.8 918 902.8 918 905.4 L918 907.6" fill="none" stroke="#dce9f7" stroke-width="1.3"/>
      <rect x="912.6" y="907.6" width="6.8" height="5.4" rx="1" fill="#dce9f7"/>
      <circle cx="916" cy="910.2" r="0.9" fill="#2a70c0"/>
    </g>
  </g>

  <!-- ============ FOOTER ============ -->
  <g id="footer">
    <rect x="84.8" y="951.7" width="854.2" height="43.6" fill="#1f6ab2"/>
    <text class="hd" x="268" y="981" style="font-size:21.6px" textLength="480" lengthAdjust="spacingAndGlyphs">The Future of Retail: Humans Empowered by AI</text>
    <path id="sparkle" d="M968 944 C972.5 957 979 963.5 992 968 C979 972.5 972.5 979 968 992 C963.5 979 957 972.5 944 968 C957 963.5 963.5 957 968 944 Z" fill="#e8e9ed"/>
  </g>
</svg>
</body>
</html>
